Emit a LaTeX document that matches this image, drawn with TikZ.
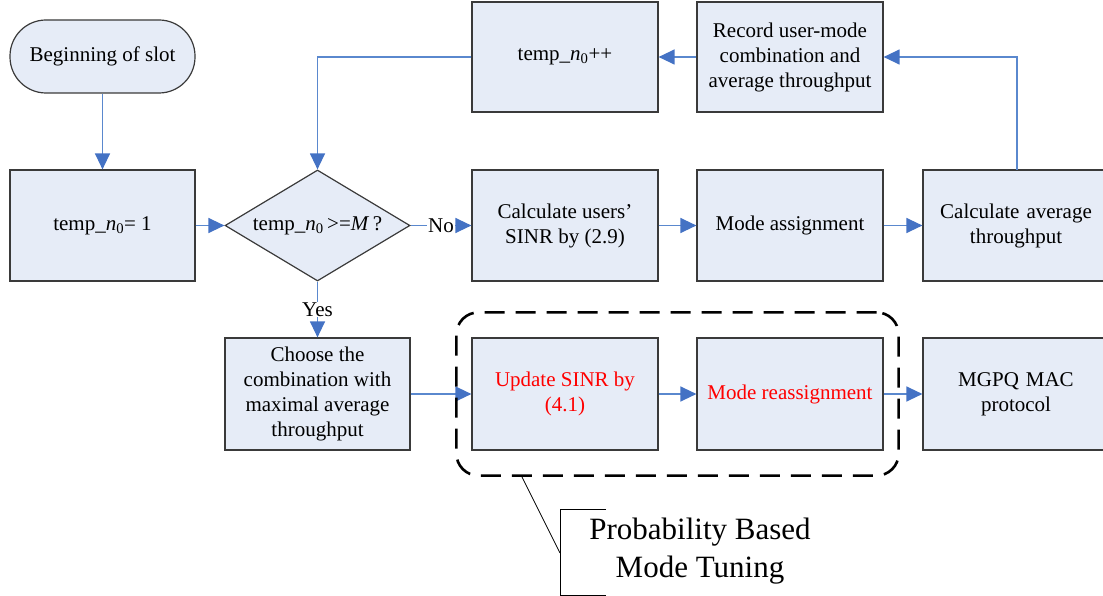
\documentclass[tikz,border=0pt]{standalone}
\usepackage{fontspec}
\setmainfont{Liberation Serif}
\usetikzlibrary{shapes.geometric,arrows.meta,fit}
\definecolor{boxfill}{HTML}{E6ECF7}
\definecolor{flow}{HTML}{5A88CE}
\definecolor{flowtip}{HTML}{4472C4}
\definecolor{boxline}{HTML}{3A3A3A}
\definecolor{hot}{HTML}{FF0000}

\begin{document}
\begin{tikzpicture}[x=1pt,y=-1pt,
  every node/.style={font=\fontsize{21}{25}\selectfont},
  proc/.style={draw=boxline, fill=boxfill, line width=1.2pt,
    minimum width=186pt, minimum height=111pt, inner sep=2pt, align=center},
  term/.style={proc, minimum width=185pt, minimum height=73pt, rounded corners=36pt},
  decision/.style={diamond, draw=boxline, fill=boxfill, line width=1.2pt,
    minimum width=185pt, minimum height=111pt, inner sep=0pt},
  flowline/.style={draw=flow, line width=1.3pt,
    -{Triangle[length=16pt,width=15pt,color=flowtip]}},
  tag/.style={fill=white, inner sep=1pt},
  group/.style={draw=black, line width=2.6pt, dash pattern=on 20pt off 11pt,
    rounded corners=22pt, inner sep=0pt},
  note/.style={font=\fontsize{31}{38}\selectfont, align=center},
]
\useasboundingbox (0,0) rectangle (1103,596);

% main loop
\node[term] (start) at (102.5,56.5) {Beginning of slot};
\node[proc, minimum width=185pt] (init) at (102.5,225.5) {temp\_\textit{n}\textsubscript{0}= 1};
\node[decision] (dec) at (317.5,225.5) {};
\node at (dec) {temp\_\textit{n}\textsubscript{0}\,>=\textit{M}\,?};
\node[proc] (calc) at (565,225.5) {Calculate users’\\SINR by (2.9)};
\node[proc] (mode) at (790,225.5) {Mode assignment};
\node[proc, minimum width=186pt, text width=178pt] (avg) at (1016,225.5) {Calculate average\\throughput};
\node[proc, minimum height=110pt] (inc) at (565,57) {temp\_\textit{n}\textsubscript{0}++};
\node[proc, minimum height=110pt] (rec) at (790,57) {Record user-mode\\combination and\\average throughput};

% final stage
\node[proc, minimum width=185pt, minimum height=112pt] (choose) at (317.5,394) {Choose the\\combination with\\maximal average\\throughput};
\node[proc, minimum height=112pt, text=hot] (upd) at (565,394) {Update SINR by\\(4.1)};
\node[proc, minimum height=112pt, text=hot] (remode) at (790,394) {Mode reassignment};
\node[proc, minimum width=186pt, text width=178pt, minimum height=112pt] (mgpq) at (1016,394) {MGPQ MAC\\protocol};

% connectors
\coordinate (rise) at (1017,170);
\draw[flowline] (start) -- (init);
\draw[flowline] (init) -- (dec);
\draw[flowline] (dec) -- node[tag] {No} (calc);
\draw[flowline] (dec) -- node[tag] {Yes} (choose);
\draw[flowline] (calc) -- (mode);
\draw[flowline] (mode) -- (avg);
\draw[flowline] (rise) |- (rec.east);
\draw[flowline] (rec) -- (inc);
\draw[flowline] (inc.west) -| (dec.north);
\draw[flowline] (choose) -- (upd);
\draw[flowline] (upd) -- (remode);
\draw[flowline] (remode) -- (mgpq);

% tuning group and its callout
\node[group, fit=(upd)(remode), inner xsep=15pt, inner ysep=25pt] (grp) {};
\node[note] (callout) at (700,551) {Probability Based\\Mode Tuning};
\coordinate (tip) at (522,477);
\coordinate (knee) at (560,553);
\draw[line width=0.8pt] (tip) -- (knee);
\draw[line width=0.8pt] (606,509) -- (560,509) -- (560,595) -- (606,595);
\end{tikzpicture}
\end{document}
